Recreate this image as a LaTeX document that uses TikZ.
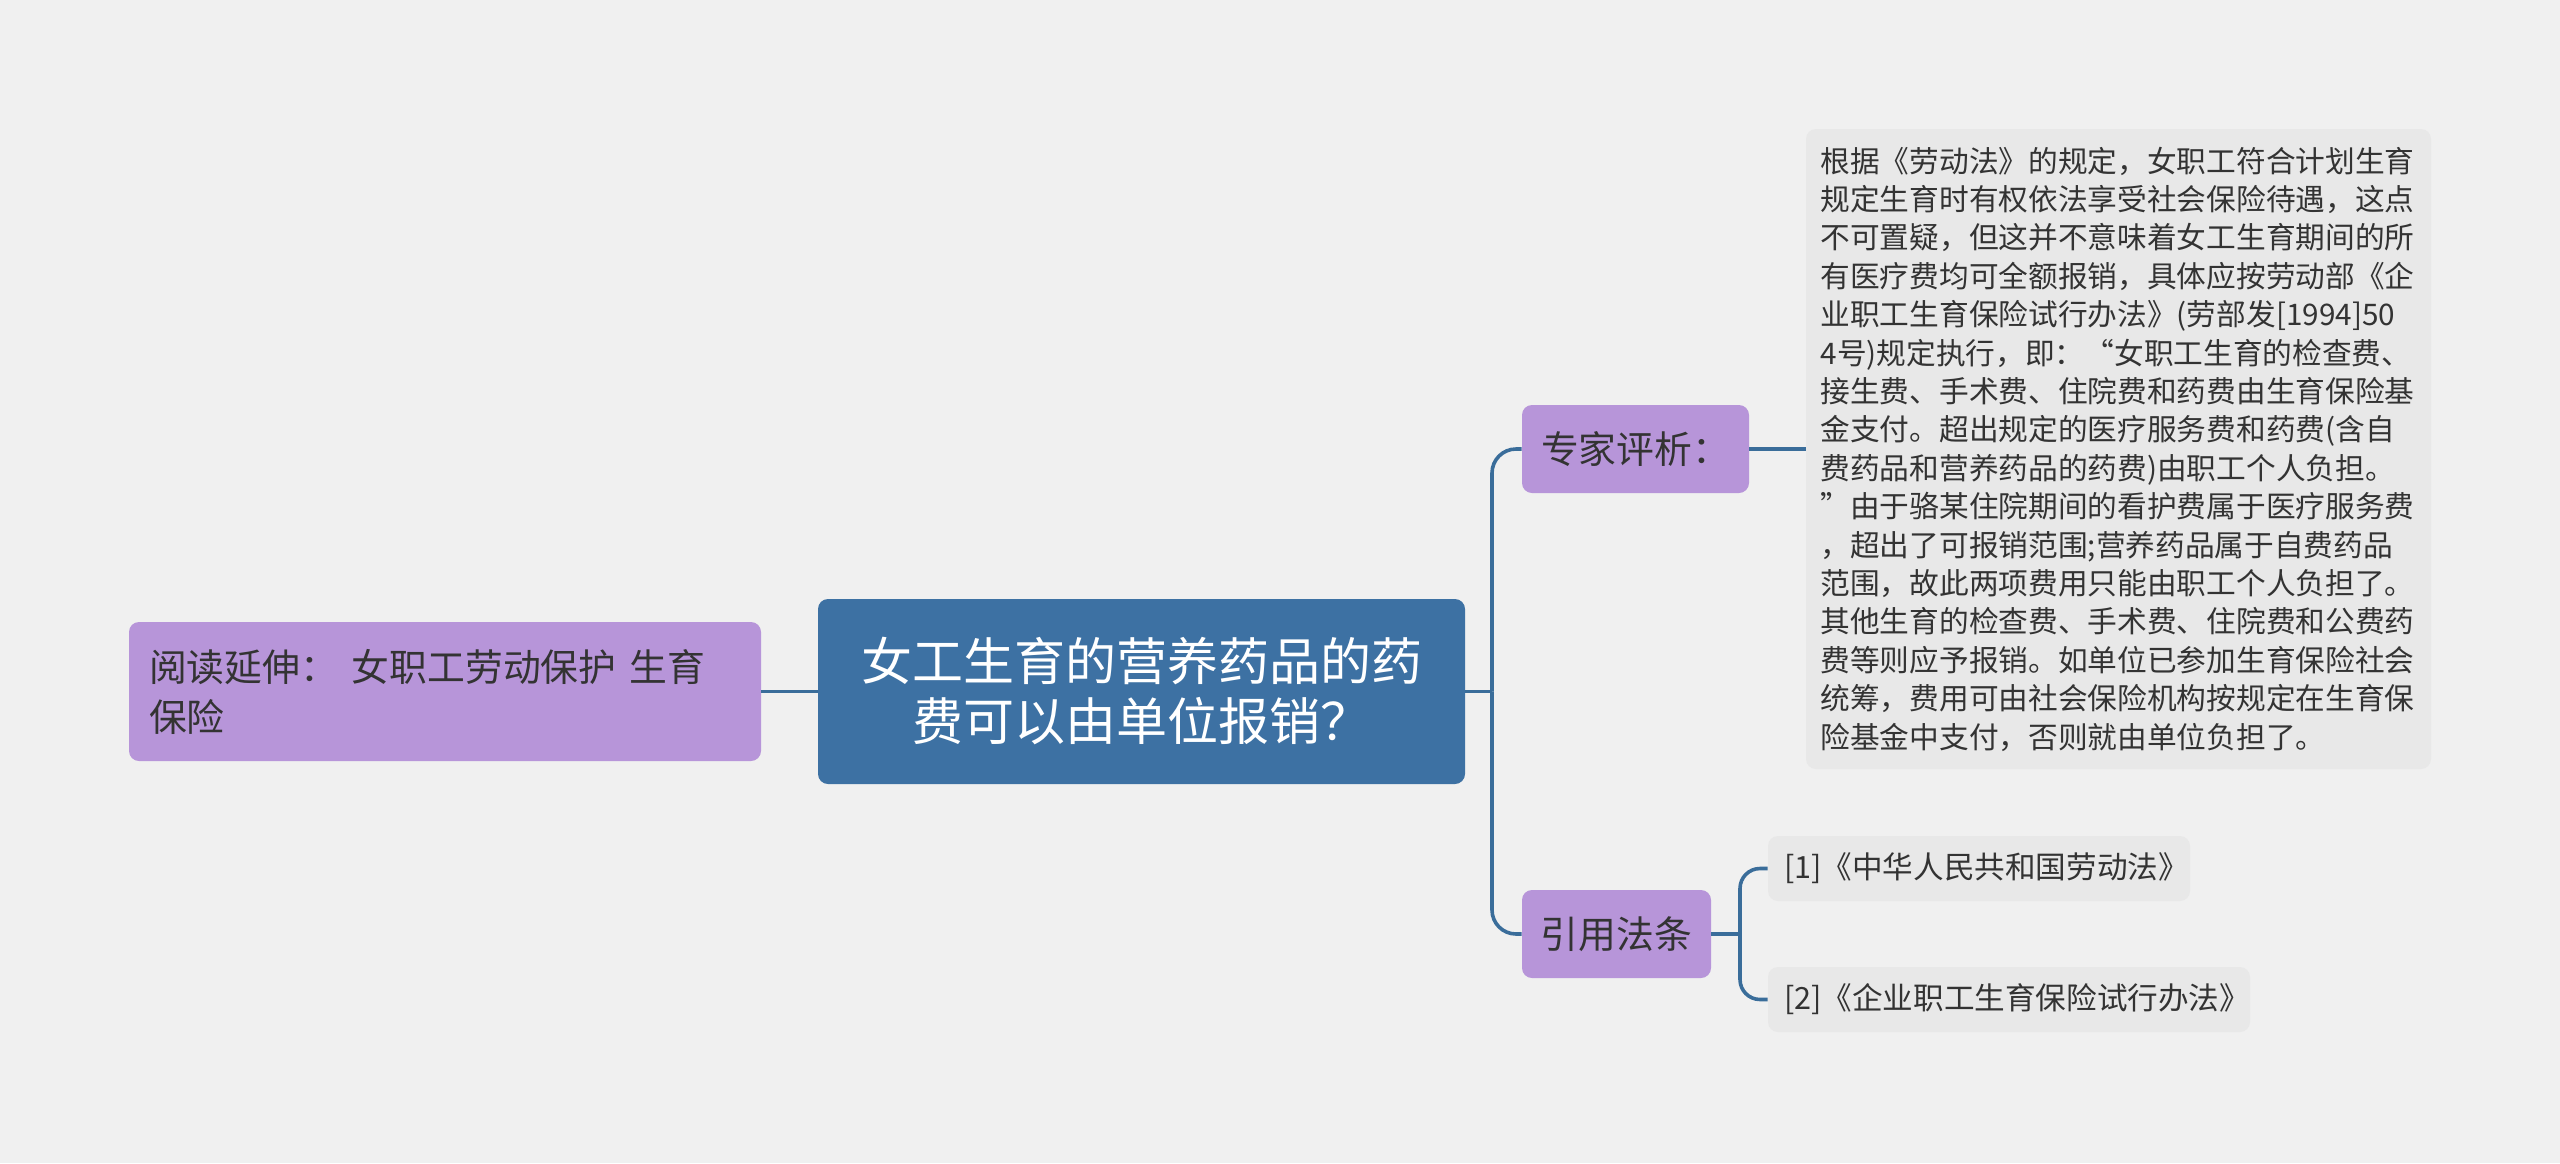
\documentclass[tikz,border=0pt]{standalone}
\usepackage{fontspec}
\setmainfont{Noto Sans CJK SC}
\definecolor{bg}{HTML}{F0F0F0}
\definecolor{conn}{HTML}{3A6D9A}
\definecolor{mainfill}{HTML}{3D71A3}
\definecolor{purp}{HTML}{B795D9}
\definecolor{grayfill}{HTML}{E8E8E8}
\definecolor{txt}{HTML}{333333}
\begin{document}
\begin{tikzpicture}[x=0.5pt,y=-0.5pt,
  connector/.style={draw=conn,line width=1.8pt},
  rootbox/.style={fill=mainfill,rounded corners=5pt,text=white,align=center,inner sep=0pt,
    font={\fontsize{25.5pt}{30pt}\selectfont}},
  purpbox/.style={fill=purp,rounded corners=5pt,text=txt,inner sep=0pt},
  notebox/.style={fill=grayfill,rounded corners=5pt,text=txt,inner sep=0pt},
]
\useasboundingbox[fill=bg] (0,0) rectangle (2560,1163);

\node[rootbox,minimum width=323.5pt,minimum height=92.5pt] (root) at (1141.5,691.5)
  {女工生育的营养药品的药\\费可以由单位报销？};

\node[purpbox,minimum width=316pt,minimum height=69.5pt,text width=296pt,align=left,
  font={\fontsize{18.9pt}{25pt}\selectfont}] (read) at (445,691.5)
  {阅读延伸：\hspace{0.37em}女职工劳动保护\hspace{0.35em}生育\\保险};

\node[purpbox,minimum width=113.5pt,minimum height=44pt,
  font={\fontsize{18.9pt}{22pt}\selectfont}] (zj) at (1635.5,449) {专家评析：};

\node[purpbox,minimum width=94.5pt,minimum height=44pt,
  font={\fontsize{18.9pt}{22pt}\selectfont}] (yy) at (1616.5,934) {引用法条};

\node[notebox,minimum width=312.5pt,minimum height=320pt,text width=298pt,align=left,
  font={\fontsize{14.85pt}{19.2pt}\selectfont}] (note) at (2118.5,449)
  {根据《劳动法》的规定，女职工符合计划生育\\
规定生育时有权依法享受社会保险待遇，这点\\
不可置疑，但这并不意味着女工生育期间的所\\
有医疗费均可全额报销，具体应按劳动部《企\\
业职工生育保险试行办法》(劳部发[1994]50\\
4号)规定执行，即：“女职工生育的检查费、\\
接生费、手术费、住院费和药费由生育保险基\\
金支付。超出规定的医疗服务费和药费(含自\\
费药品和营养药品的药费)由职工个人负担。\\
”由于骆某住院期间的看护费属于医疗服务费\\
，超出了可报销范围;营养药品属于自费药品\\
范围，故此两项费用只能由职工个人负担了。\\
其他生育的检查费、手术费、住院费和公费药\\
费等则应予报销。如单位已参加生育保险社会\\
统筹，费用可由社会保险机构按规定在生育保\\
险基金中支付，否则就由单位负担了。};

\node[notebox,minimum width=211pt,minimum height=32.5pt,text width=195pt,align=left,
  font={\fontsize{15.3pt}{18pt}\selectfont}] (r1) at (1979,868.5)
  {[1]《中华人民共和国劳动法》};
\node[notebox,minimum width=241pt,minimum height=32.5pt,text width=225pt,align=left,
  font={\fontsize{15.3pt}{18pt}\selectfont}] (r2) at (2009,999.5)
  {[2]《企业职工生育保险试行办法》};

\coordinate (t1) at (1492,691.5);
\coordinate (t2) at (1740,934);

\draw[connector] (read.east) -- (root.west);
\draw[connector] (root.east) -- (t1);
\draw[connector,rounded corners=12pt] (t1) |- (zj.west);
\draw[connector,rounded corners=12pt] (t1) |- (yy.west);
\draw[connector] (zj.east) -- (note.west |- zj.east);
\draw[connector] (yy.east) -- (t2);
\draw[connector,rounded corners=10pt] (t2) |- (r1.west);
\draw[connector,rounded corners=10pt] (t2) |- (r2.west);
\end{tikzpicture}
\end{document}
